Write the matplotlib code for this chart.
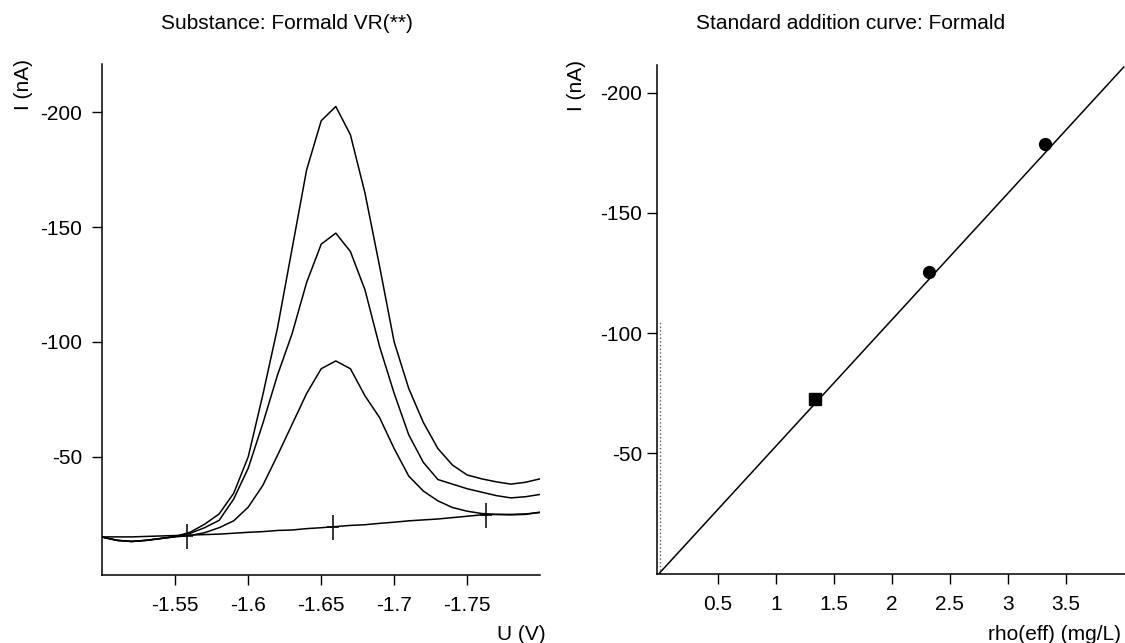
import numpy as np
import matplotlib.pyplot as plt

# ============================================================
# Вольтамперограммы (потенциал, В; ток, нА)
U = [-1.50, -1.51, -1.52, -1.53, -1.54, -1.55, -1.56, -1.57, -1.58, -1.59,
     -1.60, -1.61, -1.62, -1.63, -1.64, -1.65, -1.66, -1.67, -1.68, -1.69,
     -1.70, -1.71, -1.72, -1.73, -1.74, -1.75, -1.76, -1.77, -1.78, -1.79, -1.80]

I_ADD2 = [-14.9, -13.5, -13.0, -13.5, -14.3, -15.2, -17.0, -20.5, -25.0, -34.0,
          -50.0, -77.0, -106.0, -140.5, -175.0, -196.4, -202.6, -190.3, -164.9, -133.0,
          -100.0, -79.7, -64.9, -53.5, -46.3, -42.0, -40.3, -39.0, -38.0, -38.8, -40.3]

I_ADD1 = [-14.9, -13.5, -13.0, -13.5, -14.3, -15.2, -16.5, -19.0, -22.2, -31.5,
          -45.0, -64.5, -85.5, -103.5, -125.9, -142.6, -147.4, -139.4, -122.7, -98.0,
          -77.6, -59.5, -47.5, -40.0, -38.0, -36.0, -34.5, -33.0, -32.0, -32.5, -33.5]

I_SAMPLE = [-14.9, -13.5, -13.0, -13.5, -14.3, -15.0, -15.6, -16.8, -19.0, -22.0,
            -28.0, -37.5, -50.5, -64.0, -77.5, -88.3, -91.7, -88.3, -76.5, -67.0,
            -53.5, -41.5, -35.0, -30.7, -27.8, -26.2, -25.2, -24.8, -24.6, -24.8, -25.8]

I_BASE = [-15.0, -15.0, -15.0, -15.2, -15.4, -15.6, -15.8, -16.0, -16.2, -16.6,
          -17.0, -17.3, -17.8, -18.0, -18.6, -19.0, -19.5, -20.0, -20.3, -20.9,
          -21.4, -22.0, -22.4, -22.8, -23.4, -24.0, -24.6, -24.8, -24.8, -25.0, -25.6]

# границы интегрирования пика
CROSS_U = [-1.558, -1.658, -1.763]
CROSS_I = [-15.4, -19.5, -24.6]

# ============================================================
# Градуировка методом добавок
SAMPLE_RHO = [1.336]
SAMPLE_I = [-72.7]
ADD_RHO = [2.325, 3.323]
ADD_I = [-125.4, -178.6]
FIT_SLOPE = -52.6
FIT_INTERCEPT = -0.3
DOT_TOP = -105.0

plt.rcParams['font.family'] = ['Liberation Sans', 'DejaVu Sans']
FS = 15


def style_axes(ax):
    for s in ['top', 'right']:
        ax.spines[s].set_visible(False)
    for s in ['left', 'bottom']:
        ax.spines[s].set_linewidth(1.1)
    ax.tick_params(axis='both', labelsize=FS, length=7, width=1.0)
    ax.tick_params(axis='x', pad=8)


def main():
    fig = plt.figure(figsize=(11.25, 6.43), dpi=100)

    # --- левая панель: вольтамперограммы
    ax1 = fig.add_axes([0.0904, 0.1058, 0.3896, 0.7942])
    for curve in [I_ADD2, I_ADD1, I_SAMPLE, I_BASE]:
        ax1.plot(U, curve, color='black', lw=1.1)
    ax1.plot(CROSS_U, CROSS_I, ls='none', marker='|', ms=18, mew=1.1, color='black')
    ax1.plot(CROSS_U, CROSS_I, ls='none', marker='_', ms=8, mew=1.1, color='black')
    ax1.set_xlim(-1.4995, -1.8)
    ax1.set_ylim(1.6, -221)
    ax1.set_xticks([-1.55, -1.6, -1.65, -1.7, -1.75])
    ax1.set_xticklabels(['-1.55', '-1.6', '-1.65', '-1.7', '-1.75'])
    ax1.set_yticks([-200, -150, -100, -50])
    ax1.set_yticklabels(['-200', '-150', '-100', '-50'])
    style_axes(ax1)
    ax1.tick_params(axis='y', pad=7)
    ax1.set_ylabel('I (nA)', fontsize=FS, loc='top')
    ax1.yaxis.set_label_coords(-0.156, 1.01)
    ax1.set_xlabel('U (V)', fontsize=FS, loc='right')
    ax1.xaxis.set_label_coords(1.013, -0.098)

    # --- правая панель: кривая добавок
    ax2 = fig.add_axes([0.5843, 0.1068, 0.4157, 0.7921])
    x_fit = np.array([0.0, 4.0])
    ax2.plot(x_fit, FIT_SLOPE * x_fit + FIT_INTERCEPT, color='black', lw=1.1)
    ax2.plot([0, 0], [0, DOT_TOP], color='0.35', lw=1.0, ls=':')
    ax2.plot(SAMPLE_RHO, SAMPLE_I, ls='none', marker='s', ms=8.5, color='black')
    ax2.plot(ADD_RHO, ADD_I, ls='none', marker='o', ms=8.5, color='black')
    ax2.set_xlim(-0.02, 4.01)
    ax2.set_ylim(0.3, -211.5)
    ax2.set_xticks([0.5, 1, 1.5, 2, 2.5, 3, 3.5])
    ax2.set_xticklabels(['0.5', '1', '1.5', '2', '2.5', '3', '3.5'])
    ax2.set_yticks([-200, -150, -100, -50])
    ax2.set_yticklabels(['-200', '-150', '-100', '-50'])
    style_axes(ax2)
    ax2.tick_params(axis='y', pad=4)
    ax2.set_ylabel('I (nA)', fontsize=FS, loc='top')
    ax2.yaxis.set_label_coords(-0.152, 1.01)
    ax2.set_xlabel('rho(eff) (mg/L)', fontsize=FS, loc='right')
    ax2.xaxis.set_label_coords(0.991, -0.1)

    fig.text(0.255, 0.963, 'Substance: Formald VR(**)', fontsize=FS,
             ha='center', va='center')
    fig.text(0.756, 0.963, 'Standard addition curve: Formald', fontsize=FS,
             ha='center', va='center')

    fig.savefig('out.png', dpi=100)


if __name__ == "__main__":
    main()
